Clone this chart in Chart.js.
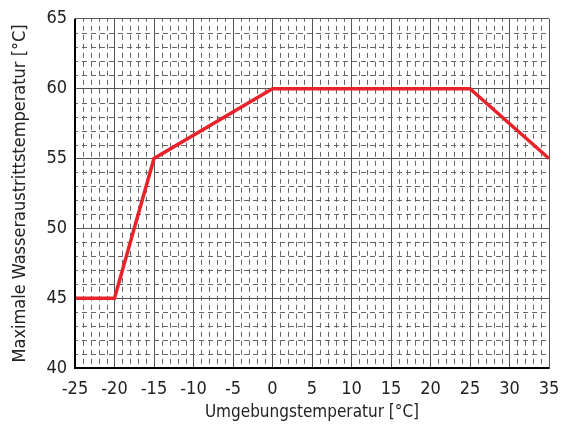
<!DOCTYPE html>
<html>
<head>
<meta charset="utf-8">
<script src="https://cdn.jsdelivr.net/npm/chart.js@4/dist/chart.umd.min.js"></script>
<style>
  html, body { margin: 0; padding: 0; background: #fff; }
  #wrap { width: 561px; height: 428px; }
</style>
</head>
<body>
<div id="wrap"><canvas id="chart" width="561" height="428"></canvas></div>
<script>
// Umgebungstemperatur (x) -> max. Wasseraustrittstemperatur (y)
const ambientTemps = [-25, -20, -15, 0, 25, 35];
const maxWaterTemps = [45, 45, 55, 60, 60, 55];
const xTicks = [-25, -20, -15, -10, -5, 0, 5, 10, 15, 20, 25, 30, 35];
const yTicks = [40, 45, 50, 55, 60, 65];

const FONT = '"Liberation Sans Narrow", "DejaVu Sans Condensed", Arial, sans-serif';

// dashed minor grid every 1 unit, drawn through the scales
const minorGrid = {
  id: 'minorGrid',
  beforeDatasetsDraw(chart) {
    const { ctx, chartArea: a, scales: { x, y } } = chart;
    ctx.save();
    ctx.strokeStyle = '#666';
    ctx.lineWidth = 1;
    ctx.setLineDash([5, 4]);
    ctx.lineDashOffset = 2;
    for (let v = x.min; v <= x.max; v++) {
      if (v % 5 === 0) continue;
      const px = Math.round(x.getPixelForValue(v)) + 0.5;
      ctx.beginPath(); ctx.moveTo(px, a.top); ctx.lineTo(px, a.bottom); ctx.stroke();
    }
    for (let v = y.min; v <= y.max; v++) {
      if (v % 5 === 0) continue;
      const py = Math.round(y.getPixelForValue(v)) + 0.5;
      ctx.beginPath(); ctx.moveTo(a.left, py); ctx.lineTo(a.right, py); ctx.stroke();
    }
    ctx.restore();
  }
};

// black axis lines left and bottom
const frame = {
  id: 'frame',
  afterDatasetsDraw(chart) {
    const { ctx, chartArea: a } = chart;
    ctx.save();
    ctx.strokeStyle = '#000';
    ctx.lineWidth = 2;
    ctx.beginPath();
    ctx.moveTo(a.left, a.top);
    ctx.lineTo(a.left, a.bottom);
    ctx.lineTo(a.right, a.bottom);
    ctx.stroke();
    ctx.restore();
  }
};

const chart = new Chart(document.getElementById('chart'), {
  type: 'line',
  data: {
    datasets: [{
      data: ambientTemps.map((t, i) => ({ x: t, y: maxWaterTemps[i] })),
      borderColor: '#e8232b',
      borderWidth: 3.5,
      pointRadius: 0,
      tension: 0,
      fill: false,
      borderJoinStyle: 'miter'
    }]
  },
  options: {
    responsive: false,
    animation: false,
    layout: { padding: { left: 0, right: 12, top: 18, bottom: 4 } },
    plugins: { legend: { display: false }, tooltip: { enabled: false } },
    scales: {
      x: {
        type: 'linear',
        min: -25, max: 35,
        afterBuildTicks: s => { s.ticks = xTicks.map(v => ({ value: v })); },
        afterFit: s => { s.height = 56; s.paddingRight = 10; s.paddingLeft = 0; },
        grid: { color: '#555', lineWidth: 1, drawTicks: false },
        border: { display: true, color: '#555' },
        ticks: { color: '#222', font: { family: FONT, size: 18 }, padding: 11, maxRotation: 0 },
        title: {
          display: true, text: 'Umgebungstemperatur [°C]', color: '#222',
          font: { family: FONT, size: 17 }, padding: { top: 2, bottom: 1 }
        }
      },
      y: {
        min: 40, max: 65,
        afterBuildTicks: s => { s.ticks = yTicks.map(v => ({ value: v })); },
        afterFit: s => { s.width = 75; },
        grid: { color: '#555', lineWidth: 1, drawTicks: false },
        border: { display: true, color: '#555' },
        ticks: { color: '#222', font: { family: FONT, size: 18 }, padding: 8 },
        title: {
          display: true, text: 'Maximale Wasseraustrittstemperatur [°C]', color: '#222',
          font: { family: FONT, size: 18 }, padding: { top: 10, bottom: 0 }
        }
      }
    }
  },
  plugins: [minorGrid, frame]
});
</script>
</body>
</html>
